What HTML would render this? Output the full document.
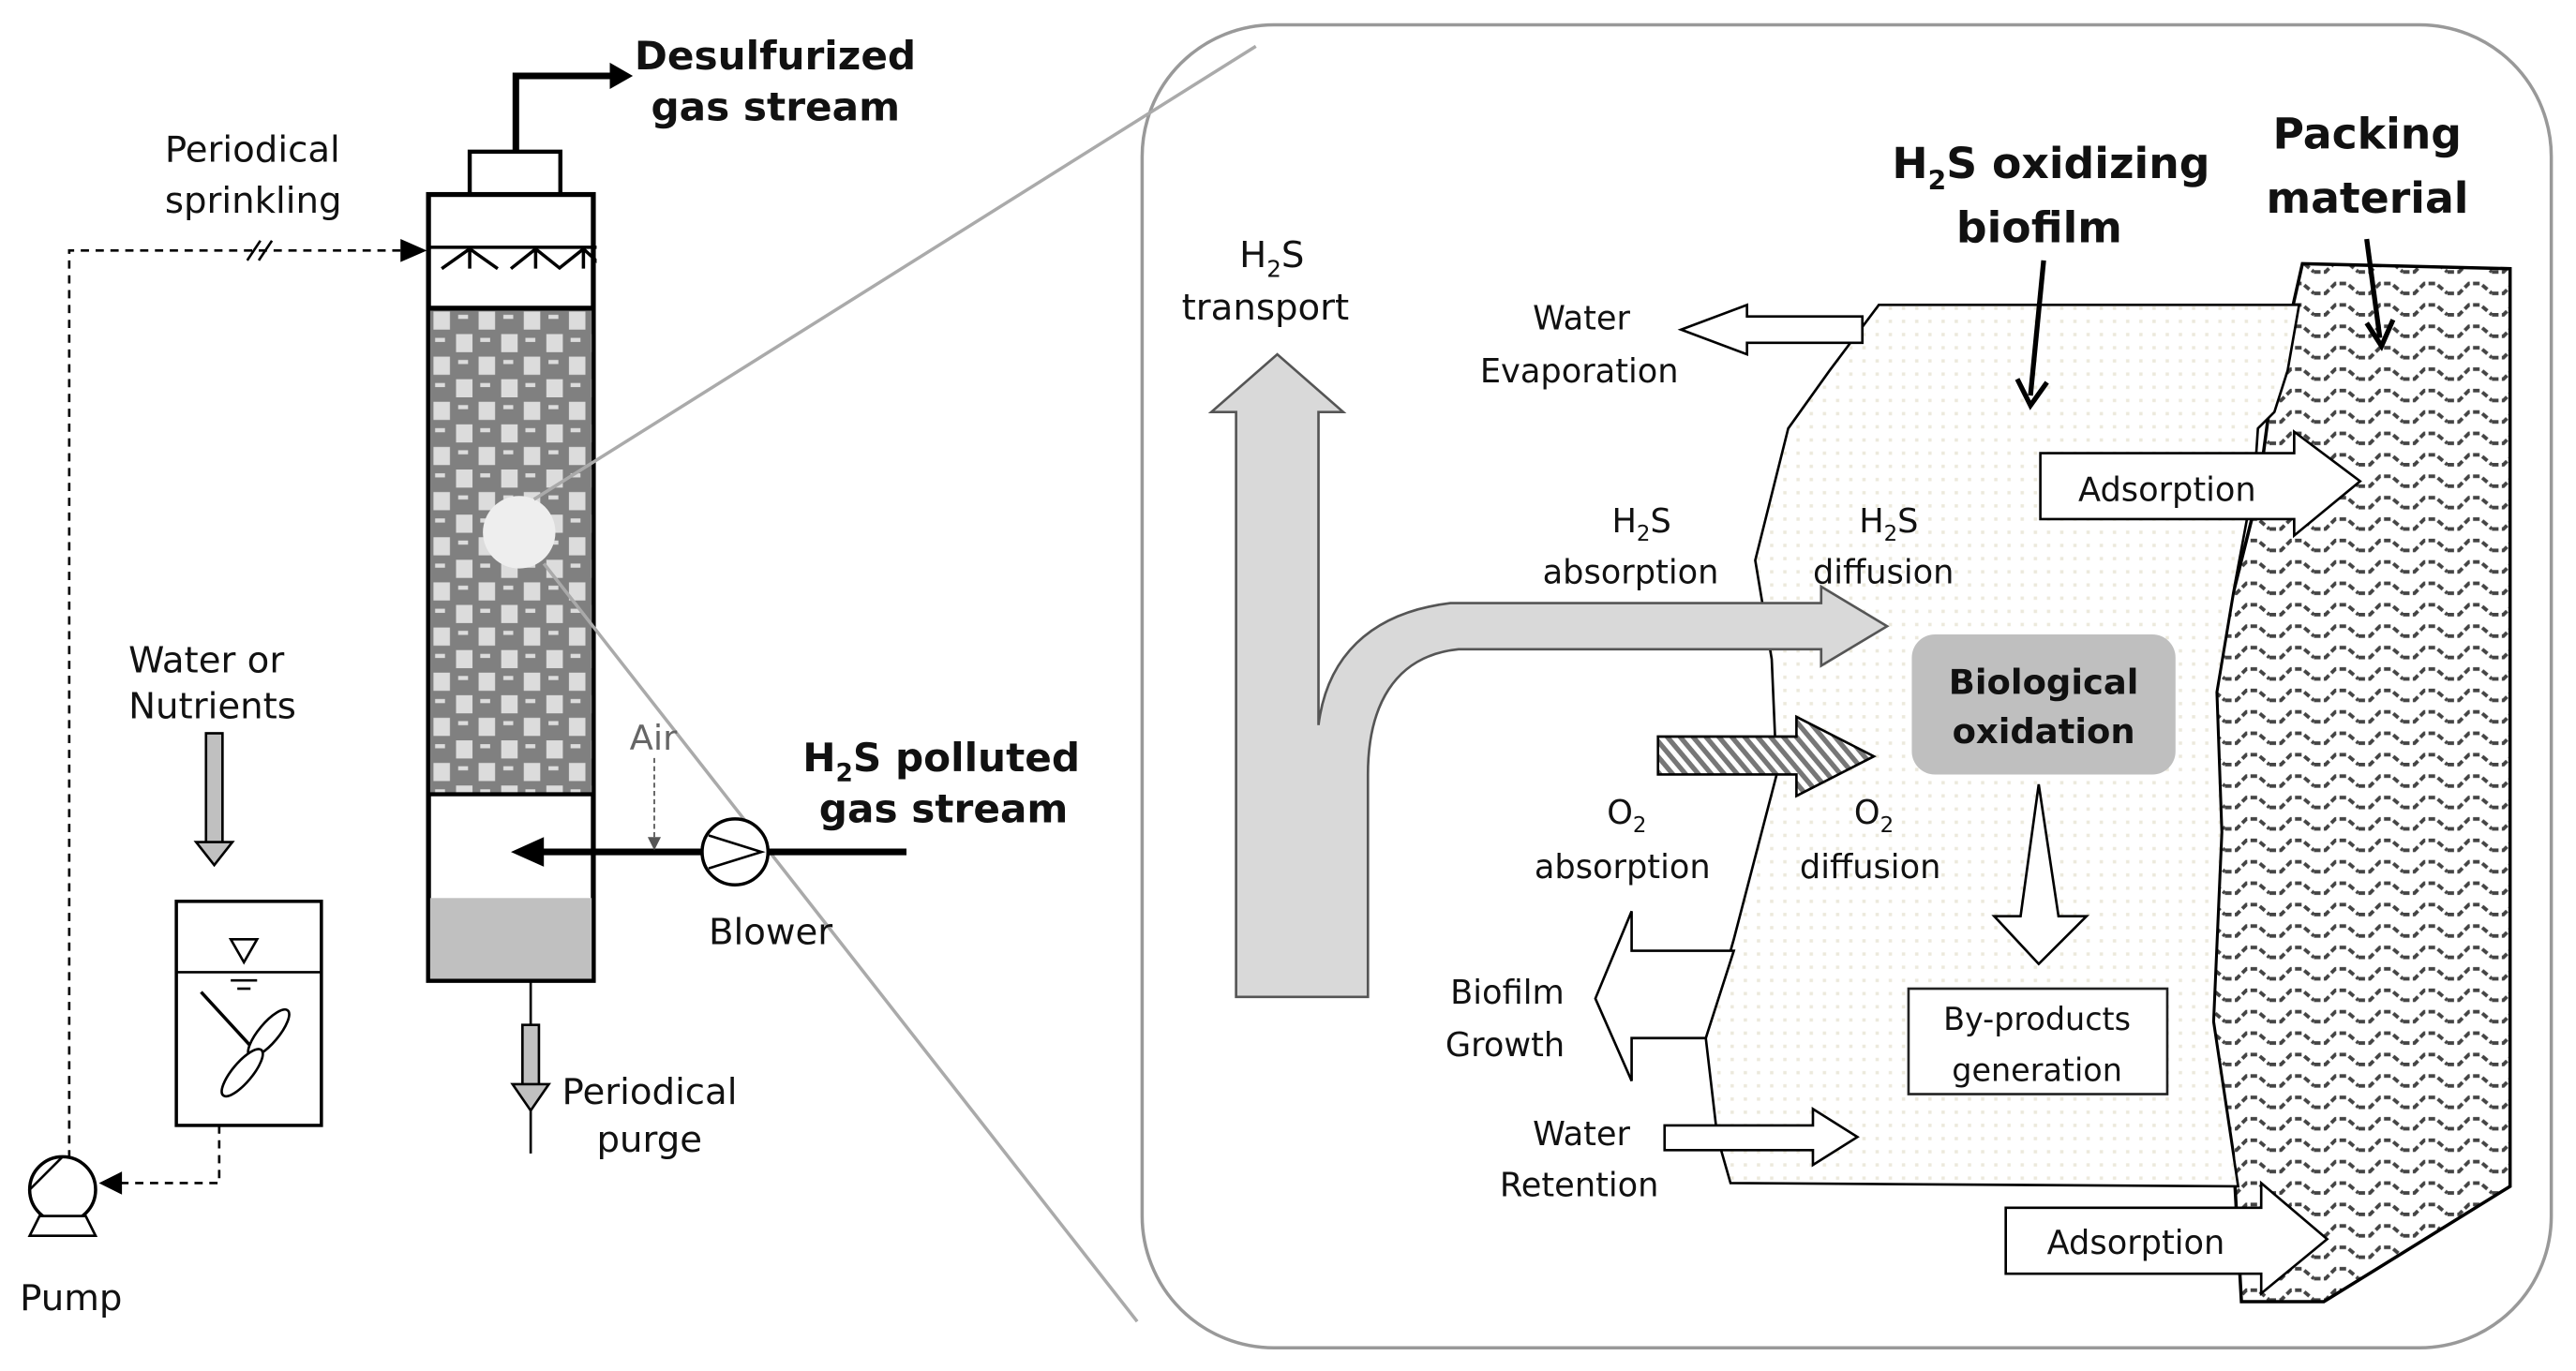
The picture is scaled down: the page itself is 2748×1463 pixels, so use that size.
<!DOCTYPE html>
<html><head><meta charset="utf-8"><style>
html,body{margin:0;padding:0;background:#fff}
svg{display:block}
text{font-family:"DejaVu Sans","Liberation Sans",sans-serif;fill:#111}
.b{font-weight:bold}
</style></head><body>
<svg width="2748" height="1463" viewBox="0 0 1563 832" xmlns="http://www.w3.org/2000/svg">
<defs>
<pattern id="chk" width="27.4" height="27.4" patternUnits="userSpaceOnUse" x="261" y="188">
<rect width="27.4" height="27.4" fill="#808080"/>
<rect x="2" y="1" width="10" height="11" fill="#dcdcdc"/>
<rect x="15.7" y="14.7" width="10" height="11" fill="#dcdcdc"/>
<rect x="17" y="3" width="6" height="2.5" fill="#dcdcdc"/>
<rect x="3" y="17" width="6" height="2.5" fill="#dcdcdc"/>
</pattern>
<pattern id="dots" width="8" height="8" patternUnits="userSpaceOnUse">
<rect width="8" height="8" fill="#fff"/><rect x="2" y="2" width="2" height="2" fill="#ece9dc"/>
</pattern>
<pattern id="wave" width="27" height="13" patternUnits="userSpaceOnUse">
<rect width="27" height="13" fill="#fff"/>
<path d="M0 9 L7 9 L13 3 L20 3 L27 9" stroke="#444" stroke-width="2.2" fill="none" stroke-dasharray="4 2"/>
</pattern>
<pattern id="diag" width="6" height="6" patternUnits="userSpaceOnUse" patternTransform="rotate(-40)">
<rect width="6" height="6" fill="#fff"/><rect width="3" height="6" fill="#777"/>
</pattern>
</defs>

<!-- right panel -->
<rect x="693" y="15" width="855" height="803" rx="80" fill="#fff" stroke="#999" stroke-width="2"/>

<!-- column -->
<rect x="285" y="92" width="55" height="26" fill="#fff" stroke="#000" stroke-width="2.5"/>
<polyline points="313,92 313,46 372,46" fill="none" stroke="#000" stroke-width="4"/>
<polygon points="370,38 384,46 370,54" fill="#000"/>
<text class="b" x="385" y="42" font-size="24">Desulfurized</text>
<text class="b" x="395" y="73" font-size="24">gas stream</text>
<rect x="260" y="118" width="100" height="477" fill="#fff" stroke="#000" stroke-width="3"/>
<rect x="261" y="187" width="98" height="295" fill="url(#chk)"/>
<line x1="260" y1="187" x2="360" y2="187" stroke="#000" stroke-width="3"/>
<line x1="260" y1="482" x2="360" y2="482" stroke="#000" stroke-width="2.5"/>
<rect x="261" y="545" width="98" height="49" fill="#c0c0c0"/>
<line x1="260" y1="150" x2="363" y2="150" stroke="#000" stroke-width="2"/>
<g stroke="#000" stroke-width="2" fill="none">
<path d="M268 163 L285 151 L302 163 M285 151 L285 163"/>
<path d="M310 163 L325 151 L340 163 M325 151 L325 163"/>
<path d="M339 163 L354 151 L367 163 M354 151 L354 163" clip-path="none"/>
</g>
<rect x="362" y="148" width="8" height="18" fill="#fff"/>
<circle cx="315" cy="323" r="22" fill="#eee"/>
<!-- zoom lines -->
<line x1="324" y1="303" x2="762" y2="28" stroke="#aaa" stroke-width="2"/>
<line x1="330" y1="342" x2="690" y2="802" stroke="#aaa" stroke-width="2"/>

<!-- sprinkling dashed -->
<polyline points="42,703 42,152 245,152" fill="none" stroke="#000" stroke-width="1.5" stroke-dasharray="5 4"/>
<polygon points="243,145 259,152 243,159" fill="#000"/>
<line x1="150" y1="158" x2="158" y2="146" stroke="#000" stroke-width="1.5"/>
<line x1="157" y1="158" x2="165" y2="146" stroke="#000" stroke-width="1.5"/>
<text x="100" y="98" font-size="22">Periodical</text>
<text x="100" y="129" font-size="22">sprinkling</text>

<!-- tank -->
<text x="78" y="408" font-size="22">Water or</text>
<text x="78" y="436" font-size="22">Nutrients</text>
<rect x="125" y="445" width="10" height="68" fill="#c0c0c0" stroke="#000" stroke-width="1.5"/>
<polygon points="119,511 141,511 130,525" fill="#c0c0c0" stroke="#000" stroke-width="1.5"/>
<rect x="107" y="547" width="88" height="136" fill="#fff" stroke="#000" stroke-width="2"/>
<line x1="107" y1="590" x2="195" y2="590" stroke="#000" stroke-width="1.5"/>
<polygon points="140,570 156,570 148,584" fill="#fff" stroke="#000" stroke-width="1.5"/>
<line x1="140" y1="595" x2="156" y2="595" stroke="#000" stroke-width="1.5"/>
<line x1="144" y1="600" x2="152" y2="600" stroke="#000" stroke-width="1.5"/>
<line x1="122" y1="602" x2="155" y2="638" stroke="#000" stroke-width="2"/>
<ellipse cx="163" cy="627" rx="6" ry="18" transform="rotate(40 163 627)" fill="#fff" stroke="#000" stroke-width="1.5"/>
<ellipse cx="147" cy="651" rx="6" ry="18" transform="rotate(40 147 651)" fill="#fff" stroke="#000" stroke-width="1.5"/>
<polyline points="133,683 133,718 72,718" fill="none" stroke="#000" stroke-width="1.5" stroke-dasharray="5 4"/>
<polygon points="74,711 60,718 74,725" fill="#000"/>
<circle cx="38" cy="722" r="20" fill="#fff" stroke="#000" stroke-width="2"/>
<line x1="18" y1="722" x2="38" y2="702" stroke="#000" stroke-width="1.5"/>
<polygon points="24,738 52,738 58,750 18,750" fill="#fff" stroke="#000" stroke-width="1.5"/>
<text x="12" y="795" font-size="22">Pump</text>

<!-- gas in -->
<line x1="550" y1="517" x2="328" y2="517" stroke="#000" stroke-width="4"/>
<polygon points="330,508 310,517 330,526" fill="#000"/>
<circle cx="446" cy="517" r="20" fill="#fff" stroke="#000" stroke-width="2"/>
<polyline points="430,507 462,517 430,527" fill="none" stroke="#000" stroke-width="1.5"/>
<line x1="397" y1="460" x2="397" y2="512" stroke="#555" stroke-width="1" stroke-dasharray="3 2"/>
<polygon points="393,508 397,516 401,508" fill="#555"/>
<text x="382" y="455" font-size="21" style="fill:#666">Air</text>
<text class="b" x="487" y="468" font-size="24">H<tspan font-size="15" dy="6">2</tspan><tspan dy="-6">S polluted</tspan></text>
<text class="b" x="497" y="499" font-size="24">gas stream</text>
<text x="430" y="573" font-size="22">Blower</text>

<!-- purge -->
<line x1="322" y1="595" x2="322" y2="700" stroke="#000" stroke-width="1.5"/>
<rect x="317" y="622" width="10" height="38" fill="#c0c0c0" stroke="#000" stroke-width="1.5"/>
<polygon points="311,658 333,658 322,674" fill="#c0c0c0" stroke="#000" stroke-width="1.5"/>
<text x="341" y="670" font-size="22">Periodical</text>
<text x="362" y="699" font-size="22">purge</text>

<!-- packing -->
<path d="M1397 160 L1523 163 L1523 720 L1410 790 L1360 790 L1355 700 L1343 620 L1348 505 L1345 420 L1355 360 L1370 300 L1378 240 L1388 200 Z" fill="url(#wave)" stroke="#000" stroke-width="2"/>
<!-- biofilm -->
<path d="M1140 185 L1395 185 L1388 225 L1380 250 L1370 260 L1368 290 L1355 360 L1345 420 L1348 505 L1343 620 L1355 700 L1358 720 L1050 718 L1042 690 L1035 630 L1052 570 L1078 470 L1075 400 L1065 340 L1085 260 L1110 225 Z" fill="url(#dots)" stroke="#000" stroke-width="1.5"/>

<!-- H2S transport big arrow -->
<path d="M750 605 L750 250 L735 250 L775 215 L815 250 L800 250 L800 440 C805 400 830 372 880 366 L1105 366 L1105 356 L1145 380 L1105 404 L1105 394 L885 394 C845 398 830 430 830 470 L830 605 Z" fill="#d9d9d9" stroke="#555" stroke-width="1.5"/>
<text x="752" y="162" font-size="22">H<tspan font-size="14" dy="6">2</tspan><tspan dy="-6">S</tspan></text>
<text x="717" y="194" font-size="22">transport</text>

<!-- water evaporation -->
<polygon points="1130,192 1060,192 1060,185 1020,200 1060,215 1060,208 1130,208" fill="#fff" stroke="#000" stroke-width="1.5"/>
<text x="930" y="200" font-size="20">Water</text>
<text x="898" y="232" font-size="20">Evaporation</text>

<text class="b" x="1148" y="108" font-size="26">H<tspan font-size="16" dy="7">2</tspan><tspan dy="-7">S oxidizing</tspan></text>
<text class="b" x="1187" y="147" font-size="26">biofilm</text>
<line x1="1240" y1="158" x2="1232" y2="240" stroke="#000" stroke-width="3"/>
<polyline points="1224,230 1232,246 1242,232" fill="none" stroke="#000" stroke-width="3"/>
<text class="b" x="1379" y="90" font-size="26">Packing</text>
<text class="b" x="1375" y="129" font-size="26">material</text>
<line x1="1436" y1="145" x2="1444" y2="205" stroke="#000" stroke-width="3"/>
<polyline points="1436,196 1445,210 1452,194" fill="none" stroke="#000" stroke-width="3"/>

<!-- adsorption arrows -->
<polygon points="1238,275 1392,275 1392,262 1432,292 1392,325 1392,315 1238,315" fill="#fff" stroke="#000" stroke-width="1.5"/>
<text x="1261" y="304" font-size="20">Adsorption</text>
<polygon points="1217,733 1372,733 1372,718 1412,752 1372,785 1372,773 1217,773" fill="#fff" stroke="#000" stroke-width="1.5"/>
<text x="1242" y="761" font-size="20">Adsorption</text>

<text x="978" y="323" font-size="20">H<tspan font-size="13" dy="5">2</tspan><tspan dy="-5">S</tspan></text>
<text x="936" y="354" font-size="20">absorption</text>
<text x="1128" y="323" font-size="20">H<tspan font-size="13" dy="5">2</tspan><tspan dy="-5">S</tspan></text>
<text x="1100" y="354" font-size="20">diffusion</text>

<!-- O2 -->
<polygon points="1006,447 1090,447 1090,435 1137,459 1090,483 1090,470 1006,470" fill="url(#diag)" stroke="#000" stroke-width="1.5"/>
<text x="975" y="500" font-size="20">O<tspan font-size="13" dy="5">2</tspan></text>
<text x="931" y="533" font-size="20">absorption</text>
<text x="1125" y="500" font-size="20">O<tspan font-size="13" dy="5">2</tspan></text>
<text x="1092" y="533" font-size="20">diffusion</text>

<rect x="1160" y="385" width="160" height="85" rx="14" fill="#bfbfbf"/>
<text class="b" x="1240" y="421" font-size="21" text-anchor="middle">Biological</text>
<text class="b" x="1240" y="451" font-size="21" text-anchor="middle">oxidation</text>

<polygon points="1237,476 1226,556 1210,556 1237,585 1266,556 1249,556" fill="#fff" stroke="#000" stroke-width="1.5"/>
<rect x="1158" y="600" width="157" height="64" fill="#fff" stroke="#222" stroke-width="1.5"/>
<text x="1236" y="625" font-size="19" text-anchor="middle">By-products</text>
<text x="1236" y="656" font-size="19" text-anchor="middle">generation</text>

<!-- biofilm growth -->
<polygon points="1052,577 990,577 990,553 968,606 990,656 990,630 1035,630" fill="#fff" stroke="#000" stroke-width="1.5"/>
<text x="880" y="609" font-size="20">Biofilm</text>
<text x="877" y="641" font-size="20">Growth</text>

<polygon points="1010,683 1100,683 1100,673 1127,690 1100,707 1100,698 1010,698" fill="#fff" stroke="#000" stroke-width="1.5"/>
<text x="930" y="695" font-size="20">Water</text>
<text x="910" y="726" font-size="20">Retention</text>
</svg>
</body></html>
